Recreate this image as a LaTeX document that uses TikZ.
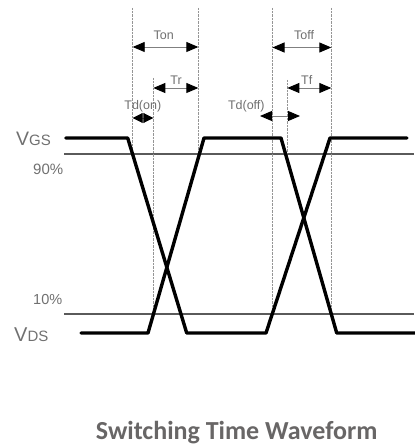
\documentclass[tikz,border=0pt]{standalone}
\usepackage{fontspec}
\setmainfont{Liberation Sans}
\newfontfamily\titlefont{Carlito}
\usetikzlibrary{arrows.meta}
\definecolor{lblclr}{HTML}{707070}
\definecolor{ttlclr}{HTML}{686666}
\definecolor{lvlclr}{HTML}{5A5A5A}
\definecolor{markclr}{HTML}{959595}
\begin{document}
\begin{tikzpicture}[x=1pt,y=-1pt,
  trace/.style={line width=3.4pt,black,line cap=round,line join=round},
  level/.style={line width=1.2pt,lvlclr},
  marker/.style={line width=0.8pt,markclr,dash pattern=on 1pt off 0.4pt},
  dim/.style={line width=0.9pt,gray,{Triangle[length=12pt,width=10pt,color=black]}-{Triangle[length=12pt,width=10pt,color=black]}},
  dimsmall/.style={line width=0.9pt,gray,{Triangle[length=10pt,width=10pt,color=black]}-{Triangle[length=10pt,width=10pt,color=black]}},
  tlabel/.style={font=\fontsize{12.5}{14}\selectfont,text=lblclr,inner sep=0pt,anchor=base},
  axlabel/.style={text=lblclr,inner sep=0pt,anchor=base west}]
\useasboundingbox (0,0) rectangle (414,446);
% level lines
\coordinate (l90a) at (64,154); \coordinate (l90b) at (414,154);
\coordinate (l10a) at (64,314); \coordinate (l10b) at (414,314);
\draw[level] (l90a) -- (l90b);
\draw[level] (l10a) -- (l10b);
% marker lines
\coordinate (m1t) at (132.7,8);  \coordinate (m1b) at (132.7,154);
\coordinate (m2t) at (153.3,78); \coordinate (m2b) at (153.3,310);
\coordinate (m3t) at (198.3,8);  \coordinate (m3b) at (198.3,154);
\coordinate (m4t) at (272.5,8);  \coordinate (m4b) at (272.5,308);
\coordinate (m5t) at (287.3,80); \coordinate (m5b) at (287.3,154);
\coordinate (m6t) at (331.3,8);  \coordinate (m6b) at (331.3,308);
\foreach \i in {1,...,6} \draw[marker] (m\i t) -- (m\i b);
% traces
\coordinate (a1) at (65.7,138); \coordinate (a2) at (127.7,138);
\coordinate (a3) at (186.7,333); \coordinate (a4) at (266,333);
\coordinate (a5) at (330,138); \coordinate (a6) at (407,138);
\draw[trace] (a1) -- (a2) -- (a3) -- (a4) -- (a5) -- (a6);
\coordinate (b1) at (81,333); \coordinate (b2) at (148,333);
\coordinate (b3) at (204,138); \coordinate (b4) at (281,138);
\coordinate (b5) at (336.7,333); \coordinate (b6) at (416,333);
\draw[trace] (b1) -- (b2) -- (b3) -- (b4) -- (b5) -- (b6);
% dimension arrows
\coordinate (ton1) at (132.7,47); \coordinate (ton2) at (198.3,47);
\coordinate (tr1) at (153.3,88); \coordinate (tr2) at (198.3,88);
\coordinate (tdon1) at (132.7,118); \coordinate (tdon2) at (153.3,118);
\coordinate (toff1) at (272.5,47.5); \coordinate (toff2) at (331.3,47.5);
\coordinate (tf1) at (287.3,88); \coordinate (tf2) at (331.3,88);
\coordinate (tdoff1) at (260,116); \coordinate (tdoff2) at (300,116);
\draw[dim] (ton1) -- (ton2);
\draw[dim] (tr1) -- (tr2);
\draw[dimsmall] (tdon1) -- (tdon2);
\draw[dim] (toff1) -- (toff2);
\draw[dim] (tf1) -- (tf2);
\draw[dim] (tdoff1) -- (tdoff2);
% labels
\node[tlabel] (lton) at (163.7,40) {Ton};
\node[tlabel] (ltr) at (176,84.3) {Tr};
\node[tlabel] (ltdon) at (142.8,110) {Td(on)};
\node[tlabel] (ltoff) at (304,40) {Toff};
\node[tlabel] (ltf) at (306.7,85) {Tf};
\node[tlabel] (ltdoff) at (246.3,110) {Td(off)};
\node[axlabel] (vgs) at (16,145.7) {\fontsize{19.5}{20}\selectfont V\fontsize{15}{16}\selectfont GS};
\node[axlabel] (vds) at (14,341.7) {\fontsize{20}{20}\selectfont V\fontsize{15}{16}\selectfont DS};
\node[axlabel,font=\fontsize{15}{16}\selectfont] (p90) at (33,175) {90\%};
\node[axlabel,font=\fontsize{14.5}{16}\selectfont] (p10) at (33,304.3) {10\%};
\node[text=ttlclr,inner sep=0pt,anchor=base,font=\titlefont\bfseries\fontsize{26}{28}\selectfont] (title) at (236.7,439.5) {Switching Time Waveform};
\end{tikzpicture}
\end{document}
